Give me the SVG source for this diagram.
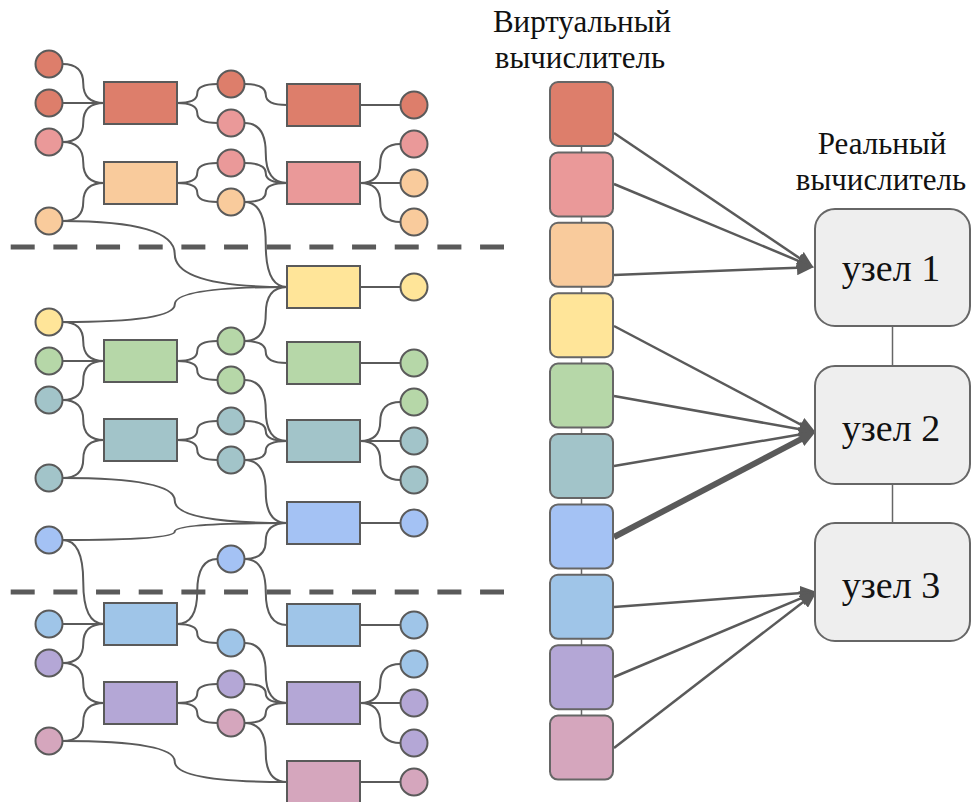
<svg xmlns="http://www.w3.org/2000/svg" width="973" height="802" viewBox="0 0 973 802">
<style>
.c{stroke:#5a5a5a;stroke-width:2}
.r{stroke:#5a5a5a;stroke-width:2}
.e{fill:none;stroke:#5a5a5a;stroke-width:2}
.v{stroke:#666;stroke-width:2}
.a{fill:none;stroke:#5a5a5a;stroke-width:2.5}
.t{fill:#111;text-anchor:middle;font-family:'Liberation Serif','Times New Roman',Tinos,'Noto Serif','DejaVu Serif',FreeSerif,'Nimbus Roman',serif}
.red{fill:#DD7E6B}.pnk{fill:#EA9999}.pch{fill:#F9CB9C}.yel{fill:#FFE599}.grn{fill:#B6D7A8}
.tea{fill:#A2C4C9}.blu{fill:#A4C2F4}.lbl{fill:#9FC5E8}.pur{fill:#B4A7D6}.mag{fill:#D5A6BD}
</style>
<defs>
<marker id="ah" markerUnits="userSpaceOnUse" markerWidth="17" markerHeight="15" refX="8" refY="7.5" orient="auto"><path d="M0,0 L17,7.5 L0,15 z" fill="#5a5a5a"/></marker>
</defs>
<rect width="973" height="802" fill="#fff"/>
<g id="dashes" stroke="#5a5a5a" stroke-width="5" stroke-dasharray="24 18.67">
<line x1="10.7" y1="247" x2="504" y2="247"/>
<line x1="10.7" y1="592" x2="504" y2="592"/>
</g>
<g id="connectors" class="e">
<path d="M62.5 64 Q83.25 64 83.25 83.5 Q83.25 103 104 103"/>
<path d="M62.5 103 L104 103"/>
<path d="M62.5 142 Q83.25 142 83.25 122.5 Q83.25 103 104 103"/>
<path d="M62.5 142 Q83.25 142 83.25 162.5 Q83.25 183 104 183"/>
<path d="M62.5 221 Q83.25 221 83.25 202 Q83.25 183 104 183"/>
<path d="M62.5 221 Q174.75 221 174.75 254 Q174.75 287 287 287"/>
<path d="M177 103 Q197.25 103 197.25 93.5 Q197.25 84 217.5 84"/>
<path d="M177 103 Q197.25 103 197.25 113 Q197.25 123 217.5 123"/>
<path d="M177 183 Q197.25 183 197.25 173 Q197.25 163 217.5 163"/>
<path d="M177 183 Q197.25 183 197.25 192.5 Q197.25 202 217.5 202"/>
<path d="M244.5 84 Q265.75 84 265.75 94.5 Q265.75 105 287 105"/>
<path d="M244.5 123 Q265.75 123 265.75 153 Q265.75 183 287 183"/>
<path d="M244.5 163 Q265.75 163 265.75 173 Q265.75 183 287 183"/>
<path d="M244.5 202 Q265.75 202 265.75 192.5 Q265.75 183 287 183"/>
<path d="M244.5 202 Q265.75 202 265.75 244.5 Q265.75 287 287 287"/>
<path d="M360 105 L400.5 105"/>
<path d="M360 183 Q380.25 183 380.25 163.5 Q380.25 144 400.5 144"/>
<path d="M360 183 L400.5 183"/>
<path d="M360 183 Q380.25 183 380.25 202.5 Q380.25 222 400.5 222"/>
<path d="M62.5 322 Q174.75 322 174.75 304.5 Q174.75 287 287 287"/>
<path d="M62.5 322 Q83.25 322 83.25 341.5 Q83.25 361 104 361"/>
<path d="M62.5 361 L104 361"/>
<path d="M62.5 400 Q83.25 400 83.25 380.5 Q83.25 361 104 361"/>
<path d="M62.5 400 Q83.25 400 83.25 420 Q83.25 440 104 440"/>
<path d="M62.5 478 Q83.25 478 83.25 459 Q83.25 440 104 440"/>
<path d="M62.5 478 Q174.75 478 174.75 500.5 Q174.75 523 287 523"/>
<path d="M62.5 540 Q174.75 540 174.75 531.5 Q174.75 523 287 523"/>
<path d="M62.5 540 Q83.25 540 83.25 582 Q83.25 624 104 624"/>
<path d="M177 361 Q197.25 361 197.25 351 Q197.25 341 217.5 341"/>
<path d="M177 361 Q197.25 361 197.25 370.5 Q197.25 380 217.5 380"/>
<path d="M177 440 Q197.25 440 197.25 430.5 Q197.25 421 217.5 421"/>
<path d="M177 440 Q197.25 440 197.25 450 Q197.25 460 217.5 460"/>
<path d="M244.5 341 Q265.75 341 265.75 314 Q265.75 287 287 287"/>
<path d="M244.5 341 Q265.75 341 265.75 352 Q265.75 363 287 363"/>
<path d="M244.5 380 Q265.75 380 265.75 410.5 Q265.75 441 287 441"/>
<path d="M244.5 421 Q265.75 421 265.75 431 Q265.75 441 287 441"/>
<path d="M244.5 460 Q265.75 460 265.75 450.5 Q265.75 441 287 441"/>
<path d="M244.5 460 Q265.75 460 265.75 491.5 Q265.75 523 287 523"/>
<path d="M244.5 559 Q265.75 559 265.75 541 Q265.75 523 287 523"/>
<path d="M244.5 559 Q265.75 559 265.75 592 Q265.75 625 287 625"/>
<path d="M360 287 L400.5 287"/>
<path d="M360 363 L400.5 363"/>
<path d="M360 441 Q380.25 441 380.25 421.5 Q380.25 402 400.5 402"/>
<path d="M360 441 L400.5 441"/>
<path d="M360 441 Q380.25 441 380.25 460.5 Q380.25 480 400.5 480"/>
<path d="M360 523 L400.5 523"/>
<path d="M62.5 624 L104 624"/>
<path d="M62.5 663 Q83.25 663 83.25 643.5 Q83.25 624 104 624"/>
<path d="M62.5 663 Q83.25 663 83.25 683 Q83.25 703 104 703"/>
<path d="M62.5 741 Q83.25 741 83.25 722 Q83.25 703 104 703"/>
<path d="M62.5 741 Q174.75 741 174.75 761.5 Q174.75 782 287 782"/>
<path d="M177 624 Q197.25 624 197.25 591.5 Q197.25 559 217.5 559"/>
<path d="M177 624 Q197.25 624 197.25 633.5 Q197.25 643 217.5 643"/>
<path d="M177 703 Q197.25 703 197.25 693.5 Q197.25 684 217.5 684"/>
<path d="M177 703 Q197.25 703 197.25 713 Q197.25 723 217.5 723"/>
<path d="M244.5 643 Q265.75 643 265.75 673 Q265.75 703 287 703"/>
<path d="M244.5 684 Q265.75 684 265.75 693.5 Q265.75 703 287 703"/>
<path d="M244.5 723 Q265.75 723 265.75 713 Q265.75 703 287 703"/>
<path d="M244.5 723 Q265.75 723 265.75 752.5 Q265.75 782 287 782"/>
<path d="M360 625 L400.5 625"/>
<path d="M360 703 Q380.25 703 380.25 683.5 Q380.25 664 400.5 664"/>
<path d="M360 703 L400.5 703"/>
<path d="M360 703 Q380.25 703 380.25 723 Q380.25 743 400.5 743"/>
<path d="M360 782 L400.5 782"/>
<g stroke="#666" stroke-width="1.5">
<line x1="581.5" y1="146" x2="581.5" y2="152.4"/>
<line x1="581.5" y1="216.4" x2="581.5" y2="222.8"/>
<line x1="581.5" y1="286.8" x2="581.5" y2="293.2"/>
<line x1="581.5" y1="357.2" x2="581.5" y2="363.6"/>
<line x1="581.5" y1="427.6" x2="581.5" y2="434"/>
<line x1="581.5" y1="498" x2="581.5" y2="504.4"/>
<line x1="581.5" y1="568.4" x2="581.5" y2="574.8"/>
<line x1="581.5" y1="638.8" x2="581.5" y2="645.2"/>
<line x1="581.5" y1="709.2" x2="581.5" y2="715.6"/>
<line x1="892.5" y1="326" x2="892.5" y2="366"/>
<line x1="892.5" y1="484" x2="892.5" y2="523"/>
</g>
<g class="a" marker-end="url(#ah)">
<line x1="614" y1="133" x2="806.2" y2="262.6"/>
<line x1="614" y1="184" x2="805.5" y2="263.8"/>
<line x1="614" y1="275" x2="805" y2="267.4"/>
<line x1="614" y1="326" x2="807.9" y2="428.3"/>
<line x1="614" y1="396" x2="807.1" y2="430.6"/>
<line x1="614" y1="466" x2="807.1" y2="433.3"/>
<line x1="614" y1="537" x2="807.9" y2="435.7" stroke-width="6"/>
<line x1="614" y1="607" x2="808" y2="592.6"/>
<line x1="614" y1="677" x2="808.6" y2="595.1"/>
<line x1="614" y1="748" x2="809.7" y2="596.9"/>
</g>
</g>
<g id="left-rects">
<rect id="lr1" class="red r" x="104" y="82" width="73" height="42"/>
<rect id="lr2" class="pch r" x="104" y="162" width="73" height="42"/>
<rect id="lr3" class="grn r" x="104" y="340" width="73" height="42"/>
<rect id="lr4" class="tea r" x="104" y="419" width="73" height="42"/>
<rect id="lr5" class="lbl r" x="104" y="603" width="73" height="42"/>
<rect id="lr6" class="pur r" x="104" y="682" width="73" height="42"/>
</g>
<g id="right-rects">
<rect id="rr1" class="red r" x="287" y="84" width="73" height="42"/>
<rect id="rr2" class="pnk r" x="287" y="162" width="73" height="42"/>
<rect id="rr3" class="yel r" x="287" y="266" width="73" height="42"/>
<rect id="rr4" class="grn r" x="287" y="342" width="73" height="42"/>
<rect id="rr5" class="tea r" x="287" y="420" width="73" height="42"/>
<rect id="rr6" class="blu r" x="287" y="502" width="73" height="42"/>
<rect id="rr7" class="lbl r" x="287" y="604" width="73" height="42"/>
<rect id="rr8" class="pur r" x="287" y="682" width="73" height="42"/>
<rect id="rr9" class="mag r" x="287" y="761" width="73" height="42"/>
</g>
<g id="left-circles">
<circle id="l1" class="red c" cx="49" cy="64" r="13.5"/>
<circle id="l2" class="red c" cx="49" cy="103" r="13.5"/>
<circle id="l3" class="pnk c" cx="49" cy="142" r="13.5"/>
<circle id="l4" class="pch c" cx="49" cy="221" r="13.5"/>
<circle id="l5" class="yel c" cx="49" cy="322" r="13.5"/>
<circle id="l6" class="grn c" cx="49" cy="361" r="13.5"/>
<circle id="l7" class="tea c" cx="49" cy="400" r="13.5"/>
<circle id="l8" class="tea c" cx="49" cy="478" r="13.5"/>
<circle id="l9" class="blu c" cx="49" cy="540" r="13.5"/>
<circle id="l10" class="lbl c" cx="49" cy="624" r="13.5"/>
<circle id="l11" class="pur c" cx="49" cy="663" r="13.5"/>
<circle id="l12" class="mag c" cx="49" cy="741" r="13.5"/>
</g>
<g id="mid-circles">
<circle id="m1" class="red c" cx="231" cy="84" r="13.5"/>
<circle id="m2" class="pnk c" cx="231" cy="123" r="13.5"/>
<circle id="m3" class="pnk c" cx="231" cy="163" r="13.5"/>
<circle id="m4" class="pch c" cx="231" cy="202" r="13.5"/>
<circle id="m5" class="grn c" cx="231" cy="341" r="13.5"/>
<circle id="m6" class="grn c" cx="231" cy="380" r="13.5"/>
<circle id="m7" class="tea c" cx="231" cy="421" r="13.5"/>
<circle id="m8" class="tea c" cx="231" cy="460" r="13.5"/>
<circle id="m9" class="blu c" cx="231" cy="559" r="13.5"/>
<circle id="m10" class="lbl c" cx="231" cy="643" r="13.5"/>
<circle id="m11" class="pur c" cx="231" cy="684" r="13.5"/>
<circle id="m12" class="mag c" cx="231" cy="723" r="13.5"/>
</g>
<g id="right-circles">
<circle id="r1" class="red c" cx="414" cy="105" r="13.5"/>
<circle id="r2" class="pnk c" cx="414" cy="144" r="13.5"/>
<circle id="r3" class="pch c" cx="414" cy="183" r="13.5"/>
<circle id="r4" class="pch c" cx="414" cy="222" r="13.5"/>
<circle id="r5" class="yel c" cx="414" cy="287" r="13.5"/>
<circle id="r6" class="grn c" cx="414" cy="363" r="13.5"/>
<circle id="r7" class="grn c" cx="414" cy="402" r="13.5"/>
<circle id="r8" class="tea c" cx="414" cy="441" r="13.5"/>
<circle id="r9" class="tea c" cx="414" cy="480" r="13.5"/>
<circle id="r10" class="blu c" cx="414" cy="523" r="13.5"/>
<circle id="r11" class="lbl c" cx="414" cy="625" r="13.5"/>
<circle id="r12" class="lbl c" cx="414" cy="664" r="13.5"/>
<circle id="r13" class="pur c" cx="414" cy="703" r="13.5"/>
<circle id="r14" class="pur c" cx="414" cy="743" r="13.5"/>
<circle id="r15" class="mag c" cx="414" cy="782" r="13.5"/>
</g>
<g id="virtual">
<text class="t" x="582" y="32" font-size="31">Виртуальный</text>
<text class="t" x="580" y="68" font-size="31">вычислитель</text>
<rect id="v1" class="red v" x="550" y="82" width="63" height="64" rx="8"/>
<rect id="v2" class="pnk v" x="550" y="152.4" width="63" height="64" rx="8"/>
<rect id="v3" class="pch v" x="550" y="222.8" width="63" height="64" rx="8"/>
<rect id="v4" class="yel v" x="550" y="293.2" width="63" height="64" rx="8"/>
<rect id="v5" class="grn v" x="550" y="363.6" width="63" height="64" rx="8"/>
<rect id="v6" class="tea v" x="550" y="434" width="63" height="64" rx="8"/>
<rect id="v7" class="blu v" x="550" y="504.4" width="63" height="64" rx="8"/>
<rect id="v8" class="lbl v" x="550" y="574.8" width="63" height="64" rx="8"/>
<rect id="v9" class="pur v" x="550" y="645.2" width="63" height="64" rx="8"/>
<rect id="v10" class="mag v" x="550" y="715.6" width="63" height="64" rx="8"/>
</g>
<g id="real">
<text class="t" x="882" y="154" font-size="31">Реальный</text>
<text class="t" x="881" y="190" font-size="31">вычислитель</text>
<g id="node1"><rect class="v" x="815" y="209" width="155" height="117" rx="20" fill="#EEEEEE"/><text class="t" x="891" y="281" font-size="38">узел 1</text></g>
<g id="node2"><rect class="v" x="815" y="366" width="155" height="118" rx="20" fill="#EEEEEE"/><text class="t" x="891" y="441" font-size="38">узел 2</text></g>
<g id="node3"><rect class="v" x="815" y="523" width="155" height="118" rx="20" fill="#EEEEEE"/><text class="t" x="891" y="598" font-size="38">узел 3</text></g>
</g>
</svg>
